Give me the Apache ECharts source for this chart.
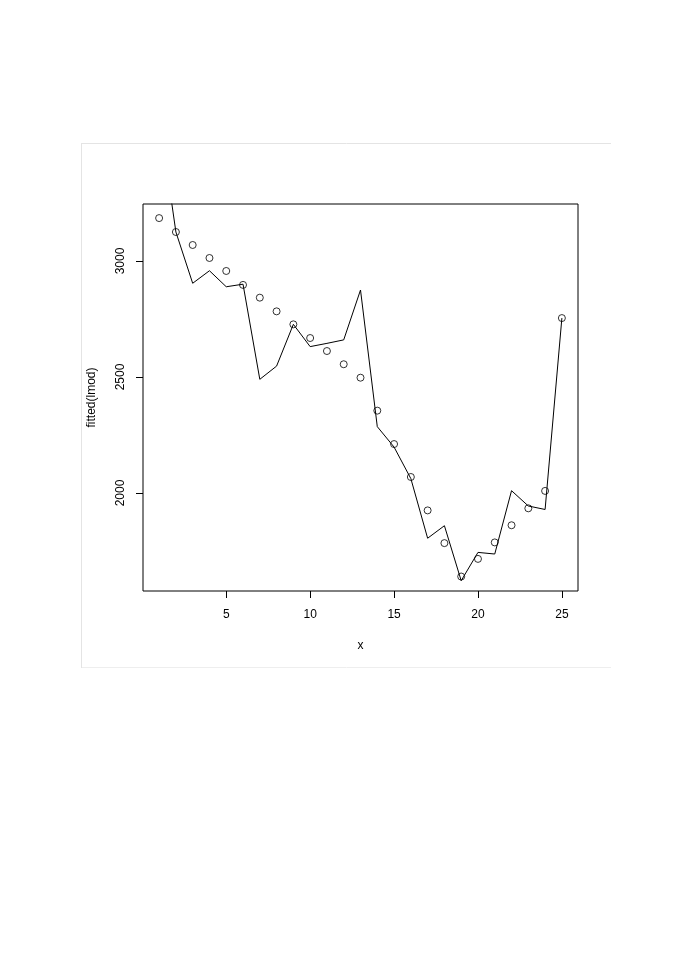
<!DOCTYPE html>
<html>
<head>
<meta charset="utf-8">
<script src="https://cdn.jsdelivr.net/npm/echarts@6/dist/echarts.min.js"></script>
<style>
    html, body { margin: 0; padding: 0; background: #fff; }
    #chart { width: 692px; height: 979px; }
</style>
</head>
<body>
<div id="chart"></div>
<script>
// 数据
var xs = [1, 2, 3, 4, 5, 6, 7, 8, 9, 10, 11, 12, 13, 14, 15, 16, 17, 18, 19, 20, 21, 22, 23, 24, 25];
var obsY = [3185, 3125, 3069, 3013, 2957, 2897, 2842, 2783, 2727, 2668, 2612, 2555, 2497,
    2355, 2211, 2069, 1925, 1784, 1640, 1716, 1787, 1861, 1934, 2009, 2754];
var fitY = [3628, 3125, 2904, 2958, 2889, 2900, 2490, 2547, 2727, 2631, 2645, 2660, 2875,
    2286, 2198, 2062, 1805, 1859, 1622, 1744, 1737, 2010, 1944, 1929, 2754];
var xTicks = [5, 10, 15, 20, 25];
var yTicks = [2000, 2500, 3000];

var font = 'Liberation Sans, Arial, sans-serif';

(function () {
    var dom = document.getElementById('chart');
    var myChart = echarts.init(dom, null, { renderer: 'canvas' });

    var pts = xs.map(function (x, i) { return [x, obsY[i]]; });
    var fit = xs.map(function (x, i) { return [x, fitY[i]]; });

    var option = {
        animation: false,
        backgroundColor: '#fff',
        grid: {
            left: 143,
            top: 204,
            width: 435,
            height: 387,
            show: true,
            borderColor: '#000',
            borderWidth: 1,
            backgroundColor: 'transparent'
        },
        // 外框 (浅灰)
        graphic: [
            { type: 'line', shape: { x1: 82, y1: 143.5, x2: 611, y2: 143.5 }, style: { stroke: '#e4e4e4', lineWidth: 1 } },
            { type: 'line', shape: { x1: 81.5, y1: 143, x2: 81.5, y2: 668 }, style: { stroke: '#e4e4e4', lineWidth: 1 } },
            { type: 'line', shape: { x1: 82, y1: 667.5, x2: 611, y2: 667.5 }, style: { stroke: '#eeeeee', lineWidth: 1 } }
        ],
        xAxis: {
            type: 'value',
            min: 0.04,
            max: 25.96,
            name: 'x',
            nameLocation: 'middle',
            nameGap: 49,
            nameTextStyle: { color: '#000', fontSize: 12, fontFamily: font },
            axisLine: { show: false },
            splitLine: { show: false },
            axisTick: {
                show: true,
                customValues: xTicks,
                length: 7,
                lineStyle: { color: '#000' }
            },
            axisLabel: {
                customValues: xTicks,
                color: '#000',
                fontSize: 12,
                fontFamily: font,
                margin: 18
            }
        },
        yAxis: {
            type: 'value',
            min: 1577.6,
            max: 3245.7,
            name: 'fitted(lmod)',
            nameLocation: 'middle',
            nameGap: 45,
            nameRotate: 90,
            nameTextStyle: { color: '#000', fontSize: 12, fontFamily: font },
            axisLine: { show: false },
            splitLine: { show: false },
            axisTick: {
                show: true,
                customValues: yTicks,
                length: 7,
                lineStyle: { color: '#000' }
            },
            axisLabel: {
                customValues: yTicks,
                rotate: 90,
                color: '#000',
                fontSize: 12,
                fontFamily: font,
                margin: 16,
                align: 'center',
                verticalAlign: 'bottom',
                formatter: function (v) { return String(v); }
            }
        },
        series: [
            {
                name: 'fitted',
                type: 'line',
                data: fit,
                symbol: 'none',
                clip: true,
                lineStyle: { color: '#000', width: 1 },
                silent: true
            },
            {
                name: 'obs',
                type: 'scatter',
                data: pts,
                symbol: 'circle',
                symbolSize: 7,
                itemStyle: { color: 'transparent', borderColor: '#000', borderWidth: 1 },
                silent: true
            }
        ]
    };
    myChart.setOption(option, true);
})();
</script>
</body>
</html>
